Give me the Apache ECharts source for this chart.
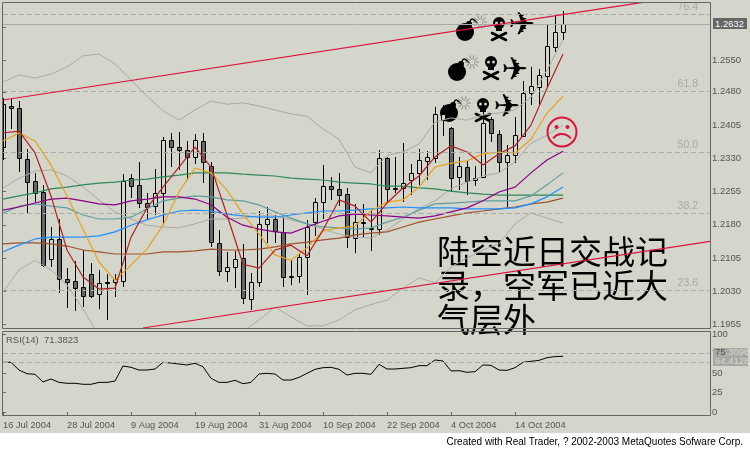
<!DOCTYPE html>
<html><head><meta charset="utf-8">
<style>html,body{margin:0;padding:0;background:#fff}#c{width:750px;height:450px}</style>
<script src="https://cdn.jsdelivr.net/npm/echarts@6/dist/echarts.min.js"></script></head>
<body><div id="c"></div>
<script>
const tickDates=['16 Jul 2004','28 Jul 2004','9 Aug 2004','19 Aug 2004','31 Aug 2004','10 Sep 2004','22 Sep 2004','4 Oct 2004','14 Oct 2004'];
const dateTickIdx=[0,8,16,24,32,40,48,56,64];
const priceTicks=[1.1955,1.2030,1.2105,1.2180,1.2255,1.2330,1.2405,1.2480,1.2550];
const rsiTicks=[0,25,50,75,100];
const opens=[1.2355,1.2449,1.2443,1.2328,1.2279,1.2254,1.2103,1.2148,1.2058,1.2053,1.2040,1.2069,1.2024,1.2050,1.2051,1.2053,1.2285,1.2270,1.2229,1.2222,1.2252,1.2371,1.2355,1.2349,1.2333,1.2369,1.2313,1.2139,1.2076,1.2085,1.2105,1.2012,1.2051,1.2182,1.2193,1.2164,1.2062,1.2064,1.2107,1.2186,1.2231,1.2267,1.2261,1.2249,1.2150,1.2186,1.2173,1.2170,1.2331,1.2263,1.2263,1.2281,1.2297,1.2324,1.2331,1.2416,1.2398,1.2288,1.2310,1.2281,1.2288,1.2419,1.2385,1.2322,1.2337,1.2380,1.2477,1.2491,1.2516,1.2581,1.2615];
const closes=[1.2452,1.2444,1.2331,1.2276,1.2252,1.2089,1.2148,1.2058,1.2051,1.2037,1.2019,1.2019,1.2049,1.2049,1.2058,1.2279,1.2267,1.2229,1.2220,1.2252,1.2371,1.2355,1.2349,1.2333,1.2371,1.2322,1.2141,1.2076,1.2085,1.2103,1.2015,1.2051,1.2182,1.2193,1.2166,1.2062,1.2064,1.2107,1.2175,1.2231,1.2267,1.2261,1.2247,1.2152,1.2186,1.2184,1.2172,1.2331,1.2261,1.2261,1.2274,1.2297,1.2326,1.2333,1.2430,1.2430,1.2285,1.2313,1.2279,1.2285,1.2410,1.2387,1.2322,1.2337,1.2382,1.2477,1.2493,1.2518,1.2583,1.2615,1.2632];
const highs=[1.2466,1.2464,1.2459,1.2351,1.2297,1.2270,1.2175,1.2193,1.2082,1.2098,1.2123,1.2094,1.2078,1.2069,1.2069,1.2294,1.2294,1.2322,1.2252,1.2306,1.2378,1.2387,1.2389,1.2369,1.2385,1.2387,1.2322,1.2168,1.2119,1.2121,1.2137,1.2071,1.2211,1.2220,1.2202,1.2197,1.2100,1.2114,1.2191,1.2240,1.2315,1.2288,1.2297,1.2263,1.2227,1.2227,1.2213,1.2349,1.2333,1.2333,1.2364,1.2317,1.2351,1.2346,1.2446,1.2450,1.2400,1.2333,1.2326,1.2313,1.2446,1.2423,1.2394,1.2360,1.2423,1.2504,1.2536,1.2531,1.2633,1.2655,1.2662];
const lows=[1.2326,1.2396,1.2299,1.2207,1.2231,1.2085,1.2085,1.2026,1.1992,1.1985,1.1995,1.2015,1.1990,1.1965,1.2017,1.2040,1.2240,1.2218,1.2191,1.2202,1.2179,1.2310,1.2304,1.2281,1.2317,1.2274,1.2130,1.2064,1.2051,1.2037,1.2001,1.1988,1.2040,1.2139,1.2139,1.2040,1.2044,1.2049,1.2021,1.2155,1.2193,1.2236,1.2222,1.2128,1.2116,1.2152,1.2121,1.2157,1.2229,1.2252,1.2231,1.2247,1.2270,1.2281,1.2319,1.2380,1.2254,1.2258,1.2247,1.2267,1.2285,1.2367,1.2297,1.2220,1.2319,1.2378,1.2450,1.2450,1.2491,1.2570,1.2597];
const lineIdx=[0,2,4,6,8,10,12,14,16,18,20,22,24,26,28,30,32,34,36,38,40,42,44,46,48,50,52,54,56,58,60,62,64,66,68,70];
const redMA=[1.2387,1.2391,1.2342,1.2245,1.2123,1.2062,1.2035,1.2037,1.2152,1.2218,1.2265,1.2310,1.2355,1.2310,1.2202,1.2091,1.2082,1.2123,1.2134,1.2110,1.2168,1.2236,1.2222,1.2186,1.2229,1.2263,1.2290,1.2333,1.2358,1.2344,1.2315,1.2340,1.2358,1.2405,1.2488,1.2565];
const orangeMA=[1.2369,1.2387,1.2369,1.2315,1.2245,1.2170,1.2096,1.2055,1.2089,1.2125,1.2179,1.2254,1.2308,1.2297,1.2258,1.2204,1.2159,1.2112,1.2100,1.2128,1.2166,1.2173,1.2177,1.2211,1.2231,1.2236,1.2265,1.2310,1.2319,1.2324,1.2340,1.2344,1.2342,1.2373,1.2432,1.2470];
const purpleMA=[1.2213,1.2220,1.2229,1.2238,1.2240,1.2234,1.2227,1.2225,1.2234,1.2238,1.2243,1.2243,1.2238,1.2225,1.2197,1.2179,1.2170,1.2164,1.2161,1.2175,1.2188,1.2200,1.2204,1.2202,1.2200,1.2197,1.2195,1.2200,1.2209,1.2218,1.2234,1.2254,1.2265,1.2297,1.2326,1.2346];
const tealMA=[1.2206,1.2222,1.2227,1.2222,1.2218,1.2202,1.2193,1.2193,1.2197,1.2216,1.2234,1.2240,1.2245,1.2243,1.2236,1.2234,1.2225,1.2209,1.2195,1.2182,1.2175,1.2173,1.2170,1.2173,1.2186,1.2197,1.2213,1.2227,1.2229,1.2231,1.2234,1.2234,1.2234,1.2245,1.2270,1.2297];
const greenMA=[1.2238,1.2245,1.2252,1.2261,1.2265,1.2270,1.2274,1.2276,1.2281,1.2283,1.2288,1.2292,1.2297,1.2297,1.2297,1.2294,1.2292,1.2290,1.2285,1.2283,1.2281,1.2276,1.2274,1.2272,1.2267,1.2267,1.2263,1.2261,1.2256,1.2252,1.2249,1.2247,1.2247,1.2247,1.2247,1.2247];
const blueMA=[1.2119,1.2134,1.2148,1.2152,1.2152,1.2152,1.2155,1.2164,1.2179,1.2191,1.2202,1.2211,1.2213,1.2211,1.2204,1.2200,1.2197,1.2197,1.2202,1.2207,1.2211,1.2211,1.2213,1.2216,1.2218,1.2220,1.2218,1.2218,1.2218,1.2216,1.2216,1.2216,1.2218,1.2227,1.2243,1.2265];
const brownMA=[1.2137,1.2139,1.2139,1.2137,1.2132,1.2123,1.2119,1.2114,1.2114,1.2114,1.2119,1.2119,1.2121,1.2125,1.2123,1.2123,1.2125,1.2130,1.2137,1.2141,1.2146,1.2150,1.2157,1.2161,1.2164,1.2175,1.2186,1.2193,1.2200,1.2207,1.2211,1.2216,1.2220,1.2227,1.2231,1.2240];
const bandUpper=[1.2502,1.2518,1.2511,1.2520,1.2536,1.2561,1.2565,1.2543,1.2507,1.2470,1.2437,1.2416,1.2439,1.2459,1.2452,1.2455,1.2448,1.2439,1.2430,1.2425,1.2396,1.2373,1.2310,1.2297,1.2337,1.2344,1.2362,1.2412,1.2421,1.2416,1.2428,1.2432,1.2439,1.2468,1.2529,1.2597];
const bandMid=[1.2263,1.2285,1.2301,1.2304,1.2290,1.2265,1.2236,1.2209,1.2193,1.2179,1.2175,1.2173,1.2182,1.2193,1.2193,1.2195,1.2200,1.2200,1.2191,1.2182,1.2170,1.2159,1.2152,1.2150,1.2168,1.2193,1.2216,1.2234,1.2261,1.2276,1.2290,1.2297,1.2322,1.2364,1.2382,1.2405];
const bandLower=[1.2028,1.2078,1.2100,1.2078,1.2044,1.1990,1.1929,null,null,null,null,null,null,null,null,1.1940,1.1965,1.1995,1.1972,1.1952,1.1952,1.1965,1.1988,1.2000,1.2010,1.2037,1.2060,1.2049,1.2085,1.2105,1.2123,1.2137,1.2182,1.2207,1.2195,1.2184];
const rsi=[63.7,63.7,53.8,49.1,48.3,38.5,42.3,38.0,36.8,36.8,35.5,35.5,38.0,38.0,39.7,59.0,57.3,53.8,53.8,55.1,63.7,62.8,61.5,60.3,62.4,58.1,43.2,38.0,38.0,40.6,36.3,38.0,48.7,49.6,48.7,41.0,41.0,44.4,49.6,54.7,56.8,57.3,54.7,47.4,49.6,49.6,48.3,61.1,55.1,55.1,56.0,56.8,59.4,59.4,66.7,65.4,52.6,53.0,50.9,51.7,60.3,59.8,53.8,53.4,56.8,63.7,65.0,66.2,69.7,71.0,71.38];
const fibPrices=[1.26548,1.24811,1.23434,1.22058,1.20321];
const fibLabels=['76.4','61.8','50.0','38.2','23.6'];
const lastPrice=1.2632;
const rsiLevels=[75.3096,64.4128];
const trendUpperX=[0,80], trendUpperY=[1.24614,1.26818];
const trendLowerX=[17.5,88.375], trendLowerY=[1.19471,1.21427];
const noteLines=['陆空近日交战记','录，空军已近大','气层外'];

const BG='#d4d5cb', AX='#666666', TXT='#555555', FONT='"Liberation Sans"';
const maLine=(name,color,vals,width)=>({name,type:'line',xAxisIndex:0,yAxisIndex:0,data:lineIdx.map((x,k)=>[x,vals[k]]),symbol:'none',silent:true,z:4,
  lineStyle:{color,width:width||1.2},connectNulls:false,clip:true});
const candle=opens.map((o,i)=>[i,o,closes[i],lows[i],highs[i]]);

function bomb(cx,cy){
 const rays=[0,1,2,3,4,5,6,7,8,9].map(k=>{const a=k*Math.PI/5;return {type:'line',z:1,shape:{x1:cx+15+2.5*Math.cos(a),y1:cy-10+2.5*Math.sin(a),x2:cx+15+7*Math.cos(a),y2:cy-10+7*Math.sin(a)},style:{stroke:'#8a8a86',lineWidth:1}};});
 return [
 {type:'circle',z:1,shape:{cx,cy,r:9},style:{fill:'#000'}},
 {type:'circle',z:1,shape:{cx:cx+4,cy:cy-8,r:3},style:{fill:'#000'}},
 {type:'bezierCurve',z:1,shape:{x1:cx+5,y1:cy-10,cpx1:cx+6,cpy1:cy-15,cpx2:cx+9,cpy2:cy-13,x2:cx+12,y2:cy-9},style:{fill:'none',stroke:'#000',lineWidth:1.4}},
 ...rays];
}
function skull(cx,cy){
 const bone=(x1,y1,x2,y2)=>({type:'line',z:1,shape:{x1,y1,x2,y2},style:{stroke:'#000',lineWidth:2.6,lineCap:'round'}});
 return [
 {type:'circle',z:1,shape:{cx,cy:cy-6,r:6},style:{fill:'#000'}},
 {type:'rect',z:1,shape:{x:cx-3,y:cy-2,width:6,height:4},style:{fill:'#000'}},
 {type:'circle',z:1,shape:{cx:cx-2.5,cy:cy-6,r:1.5},style:{fill:BG}},
 {type:'circle',z:1,shape:{cx:cx+2.5,cy:cy-6,r:1.5},style:{fill:BG}},
 bone(cx-7,cy+4,cx+7,cy+11),bone(cx+7,cy+4,cx-7,cy+11)];
}
const plane=(x,y)=>({type:'text',z:1,style:{x,y,text:'✈',fill:'#000',font:'32px "DejaVu Sans"',align:'center',verticalAlign:'middle'}});
const t=(x,y,text,fill,align,size)=>({type:'text',z:50,style:{x,y,text,fill,align:align||'left',verticalAlign:'middle',font:(size||9.5)+'px '+FONT}});
const frameStyle={fill:'none',stroke:AX,lineWidth:1};
const graphics=[
 {type:'rect',z:-10,silent:true,shape:{x:0,y:0,width:750,height:433},style:{fill:BG}},
 ...bomb(465,32),...skull(499,29),plane(522,27),
 ...bomb(457,72),...skull(491,68),plane(515,72),
 ...bomb(449,113),...skull(483,110),plane(507,109),
 {type:'circle',z:6,shape:{cx:562,cy:132,r:14.5},style:{fill:'none',stroke:'#dc143c',lineWidth:2}},
 {type:'circle',z:6,shape:{cx:556.5,cy:127,r:2},style:{fill:'#dc143c'}},
 {type:'circle',z:6,shape:{cx:567.5,cy:127,r:2},style:{fill:'#dc143c'}},
 {type:'arc',z:6,shape:{cx:562,cy:145,r:11,startAngle:-2.5,endAngle:-0.64},style:{fill:'none',stroke:'#dc143c',lineWidth:2}},
 ...noteLines.map((s,k)=>({type:'text',z:1,style:{x:437,y:251+k*34,text:s,fill:'#000',verticalAlign:'middle',font:'33px "Noto Sans CJK SC"'}})),
 {type:'rect',z:40,silent:true,shape:{x:2.5,y:2.5,width:708,height:326},style:frameStyle},
 {type:'rect',z:40,silent:true,shape:{x:2.5,y:331.5,width:708,height:84},style:frameStyle},
 {type:'rect',z:45,shape:{x:713,y:18,width:34,height:11},style:{fill:'#666666'}},
 t(715,24,'1.2632','#ffffff'),
 {type:'rect',z:45,shape:{x:713,y:348,width:35,height:18},style:{fill:'#a8a8a4'}},
 t(715,352.5,'75',TXT),t(725.5,352.5,'.3096','#d8d8d0'),t(715,361,'64.4128','#d8d8d0'),
 t(6,340,'RSI(14)  71.3823',TXT),
 t(743,442,'Created with Real Trader, ? 2002-2003 MetaQuotes Sofware Corp.','#000','right',10)
];
const axisFont={color:TXT,fontSize:9.5,fontFamily:FONT};
const option={
 animation:false,backgroundColor:'#ffffff',
 grid:[{left:3,right:40,top:2,height:326},{left:3,right:40,top:331,height:85}],
 xAxis:[
  {type:'value',gridIndex:0,min:0,max:88.375,show:false,splitLine:{show:false}},
  {type:'value',gridIndex:1,min:0,max:88.375,splitLine:{show:false},
   axisLine:{show:false},
   axisTick:{show:true,length:3,lineStyle:{color:AX},customValues:dateTickIdx},
   axisLabel:{...axisFont,fontSize:9.3,margin:5,align:'left',customValues:dateTickIdx,formatter:v=>tickDates[dateTickIdx.indexOf(v)]||''}}
 ],
 yAxis:[
  {type:'value',gridIndex:0,position:'right',min:1.19471,max:1.26825,splitLine:{show:false},scale:true,
   axisLine:{show:false},
   axisTick:{show:true,length:3,lineStyle:{color:AX},customValues:[...priceTicks,1.2625]},
   axisLabel:{...axisFont,margin:2,customValues:priceTicks,formatter:v=>v.toFixed(4)}},
  {type:'value',gridIndex:1,position:'right',min:-5.13,max:103.85,splitLine:{show:false},
   axisLine:{show:false},
   axisTick:{show:true,length:3,lineStyle:{color:AX},customValues:rsiTicks},
   axisLabel:{...axisFont,margin:2,customValues:rsiTicks}}
 ],
 graphic:{elements:graphics},
 series:[
  {name:'candles',type:'custom',xAxisIndex:0,yAxisIndex:0,silent:true,z:2,encode:{x:0,y:[1,2,3,4]},data:candle,
   renderItem(params,api){
    const i=api.value(0),o=api.value(1),c=api.value(2),l=api.value(3),h=api.value(4);
    const left=params.coordSys.x;
    const xc=Math.round(api.coord([i,o])[0]);
    const yo=Math.round(api.coord([i,o])[1]),yc=Math.round(api.coord([i,c])[1]);
    const yl=Math.round(api.coord([i,l])[1]),yh=Math.round(api.coord([i,h])[1]);
    const top=Math.min(yo,yc),bot=Math.max(yo,yc);
    const x0=Math.max(xc-2,left)+.5,w=xc+2+.5-x0;
    return {type:'group',children:[
     {type:'line',shape:{x1:xc+.5,y1:yh,x2:xc+.5,y2:yl},style:{stroke:'#000',lineWidth:1}},
     {type:'rect',shape:{x:x0,y:top+.5,width:w,height:Math.max(bot-top,1)},style:{fill:c>=o?BG:'#666666',stroke:'#000',lineWidth:1}}
    ]};
   }},
  maLine('upper','#aaaaa6',bandUpper,1),maLine('mid','#aaaaa6',bandMid,1),maLine('lower','#aaaaa6',bandLower,1),
  maLine('green','#2e8b57',greenMA),maLine('brown','#a0522d',brownMA),maLine('teal','#5f9ea0',tealMA),
  maLine('blue','#1e90ff',blueMA),maLine('purple','#8b008b',purpleMA),maLine('orange','#e6a21a',orangeMA),maLine('red','#b22222',redMA),
  {name:'trendUp',type:'line',xAxisIndex:0,yAxisIndex:0,symbol:'none',silent:true,z:5,data:trendUpperX.map((x,k)=>[x,trendUpperY[k]]),lineStyle:{color:'#dc143c',width:1.2}},
  {name:'trendLow',type:'line',xAxisIndex:0,yAxisIndex:0,symbol:'none',silent:true,z:5,data:trendLowerX.map((x,k)=>[x,trendLowerY[k]]),lineStyle:{color:'#dc143c',width:1.2}},
  {name:'levels',type:'line',xAxisIndex:0,yAxisIndex:0,data:[],silent:true,z:3,
   markLine:{silent:true,symbol:'none',animation:false,precision:6,
    data:[...fibPrices.map((p,k)=>({yAxis:p,name:fibLabels[k],lineStyle:{type:[5,3],color:'#aaaaa6',width:1},
       label:{show:true,position:'insideEndTop',formatter:fibLabels[k],color:'#aaaaa6',fontSize:10.5,fontFamily:FONT,distance:[12,2]}})),
     {yAxis:lastPrice,label:{show:false},lineStyle:{type:'solid',color:'#aaaaa6',width:1}}]}},
  {name:'rsi',type:'line',xAxisIndex:1,yAxisIndex:1,symbol:'none',silent:true,z:4,data:rsi.map((v,i)=>[i,v]),lineStyle:{color:'#000',width:1},
   markLine:{silent:true,symbol:'none',animation:false,precision:4,label:{show:false},lineStyle:{type:[5,3],color:'#aaaaa6',width:1},data:rsiLevels.map(v=>({yAxis:v}))}}
 ]
};
echarts.init(document.getElementById('c'),null,{renderer:'canvas'}).setOption(option);
</script></body></html>
